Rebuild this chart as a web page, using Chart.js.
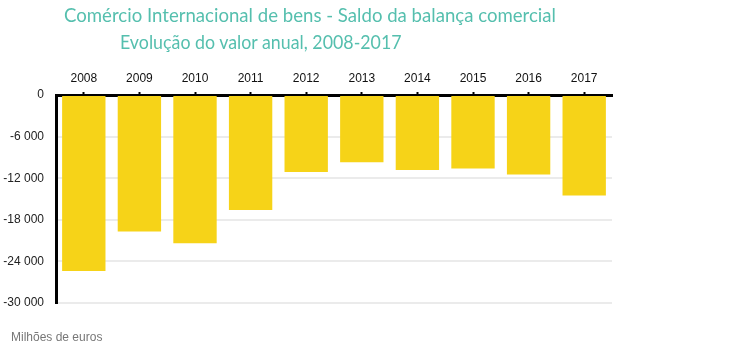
<!DOCTYPE html>
<html>
<head>
<meta charset="utf-8">
<script src="https://cdn.jsdelivr.net/npm/chart.js@4/dist/chart.umd.min.js"></script>
<style>
  html, body { margin: 0; padding: 0; background: #fff; }
  #wrap { position: relative; width: 750px; height: 351px; overflow: hidden; }
  canvas { position: absolute; left: 0; top: 0; }
  .t { position: absolute; font-family: Lato, "Open Sans", sans-serif; color: #55bfae; font-size: 20px; white-space: nowrap; line-height: 1; transform-origin: 0 0; }
  #t1 { left: 64px; top: 4px; transform: scaleX(0.93); }
  #t2 { left: 120px; top: 31px; transform: scaleX(0.89); }
  #unit { position: absolute; left: 11px; top: 330px; font-family: "Liberation Sans", Arial, sans-serif; font-size: 12px; color: #777; white-space: nowrap; }
</style>
</head>
<body>
<div id="wrap">
  <canvas id="c" width="750" height="351"></canvas>
  <div class="t" id="t1">Comércio Internacional de bens - Saldo da balança comercial</div>
  <div class="t" id="t2">Evolução do valor anual, 2008-2017</div>
  <div id="unit">Milhões de euros</div>
</div>
<script>
const years = ["2008", "2009", "2010", "2011", "2012", "2013", "2014", "2015", "2016", "2017"];
const saldo = [-25400, -19700, -21400, -16600, -11100, -9700, -10800, -10600, -11450, -14500];
const yTicks = [0, -6000, -12000, -18000, -24000, -30000];

function fmt(v) {
  const s = Math.abs(v).toString().replace(/\B(?=(\d{3})+(?!\d))/g, " ");
  return (v < 0 ? "-" : "") + s;
}

new Chart(document.getElementById("c"), {
  type: "bar",
  data: {
    labels: years,
    datasets: [{
      data: saldo,
      backgroundColor: "#f6d318",
      borderWidth: 0,
      barPercentage: 0.78,
      categoryPercentage: 1.0
    }]
  },
  options: {
    responsive: false,
    animation: false,
    devicePixelRatio: 1,
    layout: { padding: { left: 0, right: 138, top: 0, bottom: 48 } },
    plugins: { legend: { display: false }, tooltip: { enabled: false }, title: { display: false } },
    scales: {
      x: {
        position: "top",
        afterFit: s => { s.height = 95; },
        grid: { drawOnChartArea: false, drawTicks: true, tickLength: 3, tickColor: "#000", tickWidth: 2, offset: false },
        border: { display: true, color: "#000", width: 3 },
        ticks: { color: "#111", padding: 6, font: { family: "'Liberation Sans', Arial, sans-serif", size: 12 } }
      },
      y: {
        min: -30000,
        max: 0,
        afterFit: s => { s.width = 56; },
        afterBuildTicks: s => { s.ticks = yTicks.map(v => ({ value: v })); },
        grid: { color: "#ebebeb", lineWidth: 2, drawTicks: false },
        border: { display: true, color: "#000", width: 3 },
        ticks: { color: "#222", padding: 12, callback: v => fmt(v), font: { family: "'Liberation Sans', Arial, sans-serif", size: 12 } }
      }
    }
  }
});
</script>
</body>
</html>
